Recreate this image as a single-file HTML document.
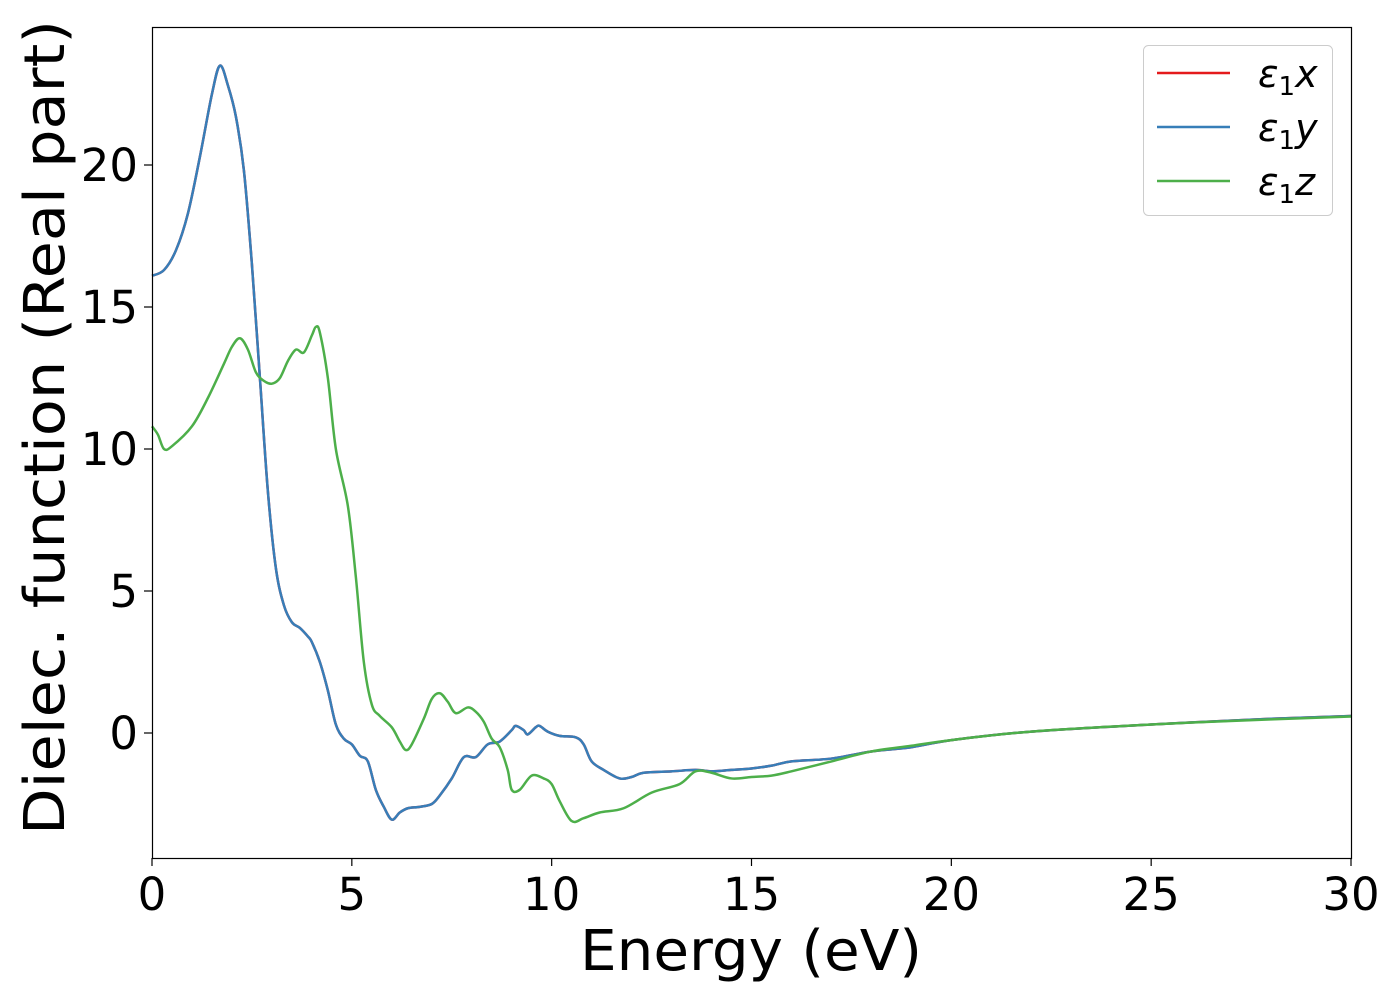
<!DOCTYPE html>
<html><head><meta charset="utf-8"><style>
html,body{margin:0;padding:0;background:#fff;}
svg{display:block;font-family:"DejaVu Sans","Liberation Sans",sans-serif;}
</style></head><body>
<svg id="chart" width="1400" height="1000" viewBox="0 0 1400 1000">
<rect x="0" y="0" width="1400" height="1000" fill="#fff"/>
<g id="plot"></g>
<rect x="152.5" y="27.5" width="1199" height="831" fill="none" stroke="#000" stroke-width="1.2"/>
<g id="xticks"></g>
<g id="yticks"></g>
<text x="580" y="970" font-size="56" textLength="342" lengthAdjust="spacingAndGlyphs">Energy (eV)</text>
<text transform="translate(64,835) rotate(-90)" font-size="56" textLength="815" lengthAdjust="spacingAndGlyphs">Dielec. function (Real part)</text>
<g>
<rect x="1143.5" y="45.5" width="189" height="170" rx="5" fill="#fff" fill-opacity="0.8" stroke="#ccc"/>
<g><line x1="1157" y1="73" x2="1230" y2="73" stroke="#e41a1c" stroke-width="2.5"/><text x="1258" y="87" font-size="38" font-style="italic">ε<tspan font-size="26" dy="8" font-style="normal">1</tspan><tspan dy="-8">x</tspan></text></g>
<g><line x1="1157" y1="127" x2="1230" y2="127" stroke="#377eb8" stroke-width="2.5"/><text x="1258" y="141" font-size="38" font-style="italic">ε<tspan font-size="26" dy="8" font-style="normal">1</tspan><tspan dy="-8">y</tspan></text></g>
<g><line x1="1157" y1="181" x2="1230" y2="181" stroke="#4daf4a" stroke-width="2.5"/><text x="1258" y="195" font-size="38" font-style="italic">ε<tspan font-size="26" dy="8" font-style="normal">1</tspan><tspan dy="-8">z</tspan></text></g>
</g>
</svg>
<script>
const energyXY=[0,0.3,0.6,0.9,1.2,1.5,1.7,1.9,2.1,2.3,2.5,2.7,2.9,3.1,3.3,3.5,3.7,3.9,4.0,4.2,4.4,4.6,4.8,5.0,5.2,5.4,5.6,5.8,6.0,6.2,6.4,6.7,7.0,7.2,7.5,7.8,8.1,8.4,8.7,9.0,9.1,9.3,9.4,9.6,9.7,9.9,10.2,10.6,10.8,11.0,11.3,11.7,12.0,12.3,13.0,13.6,14.0,14.5,15.0,15.5,16.0,17.0,18.0,19.0,20.0,22.0,25.0,28.0,30.0];
const eps1x=[16.1,16.3,17,18.3,20.3,22.5,23.5,22.8,21.7,19.8,16.5,12.5,8.5,5.8,4.5,3.9,3.7,3.4,3.2,2.5,1.5,0.3,-0.2,-0.4,-0.8,-1.0,-2.0,-2.6,-3.05,-2.8,-2.65,-2.6,-2.5,-2.2,-1.6,-0.85,-0.85,-0.4,-0.3,0.1,0.25,0.1,-0.05,0.2,0.25,0.05,-0.1,-0.15,-0.4,-1.0,-1.3,-1.6,-1.55,-1.4,-1.35,-1.3,-1.35,-1.3,-1.25,-1.15,-1.0,-0.9,-0.65,-0.5,-0.25,0.05,0.3,0.5,0.6];
const eps1y=eps1x.slice();
const energyZ=[0,0.15,0.3,0.5,1.0,1.4,1.8,2.0,2.2,2.4,2.6,2.8,3.0,3.2,3.4,3.6,3.8,4.0,4.1,4.2,4.4,4.6,4.9,5.1,5.3,5.5,5.7,6.0,6.2,6.35,6.5,6.8,7.0,7.2,7.4,7.6,7.9,8.1,8.3,8.5,8.7,8.9,9.0,9.2,9.5,9.8,10.0,10.2,10.5,10.8,11.2,11.8,12.5,13.2,13.6,14.0,14.5,15.0,15.5,16.0,17.0,18.0,19.0,20.0,22.0,25.0,28.0,30.0];
const eps1z=[10.8,10.5,10.0,10.1,10.8,11.8,13.0,13.6,13.9,13.5,12.7,12.4,12.3,12.5,13.1,13.5,13.4,14.0,14.3,14.1,12.5,10.0,8.0,5.5,2.5,1.0,0.6,0.2,-0.3,-0.6,-0.4,0.5,1.2,1.4,1.1,0.7,0.9,0.75,0.4,-0.2,-0.5,-1.3,-2.0,-2.0,-1.5,-1.6,-1.8,-2.4,-3.1,-3.0,-2.8,-2.65,-2.1,-1.8,-1.35,-1.4,-1.6,-1.55,-1.5,-1.35,-1.0,-0.65,-0.45,-0.25,0.05,0.3,0.48,0.58];
const xTicks=[0,5,10,15,20,25,30];
const yTicks=[0,5,10,15,20];
const NS="http://www.w3.org/2000/svg";
function xs(v){return 152+v*(1199/30);}
function ys(v){return 733-v*28.4;}
function pathFrom(xa,ya){
  const p=xa.map((x,i)=>[xs(x),ys(ya[i])]);
  let d="M"+p[0][0]+","+p[0][1];
  for(let i=0;i<p.length-1;i++){
    const p0=p[Math.max(i-1,0)],p1=p[i],p2=p[i+1],p3=p[Math.min(i+2,p.length-1)];
    const c1x=p1[0]+(p2[0]-p0[0])/6,c1y=p1[1]+(p2[1]-p0[1])/6;
    const c2x=p2[0]-(p3[0]-p1[0])/6,c2y=p2[1]-(p3[1]-p1[1])/6;
    d+=" C"+c1x+","+c1y+" "+c2x+","+c2y+" "+p2[0]+","+p2[1];
  }
  return d;
}
const plot=document.getElementById('plot');
function addLine(xa,ya,color,name){
  const el=document.createElementNS(NS,'path');
  el.setAttribute('d',pathFrom(xa,ya));
  el.setAttribute('fill','none');
  el.setAttribute('stroke',color);
  el.setAttribute('stroke-width','2.5');
  
  
  plot.appendChild(el);
}
addLine(energyXY,eps1x,'#e41a1c','series-eps1-x');
addLine(energyXY,eps1y,'#377eb8','series-eps1-y');
addLine(energyZ,eps1z,'#4daf4a','series-eps1-z');
const xg=document.getElementById('xticks');
xTicks.forEach(t=>{
  const l=document.createElementNS(NS,'line');
  l.setAttribute('x1',xs(t));l.setAttribute('x2',xs(t));l.setAttribute('y1',858);l.setAttribute('y2',866);
  l.setAttribute('stroke','#000');l.setAttribute('stroke-width','1.2');
  
  
  xg.appendChild(l);
  const tx=document.createElementNS(NS,'text');
  tx.setAttribute('x',xs(t));tx.setAttribute('y',910);tx.setAttribute('font-size','45');tx.setAttribute('text-anchor','middle');
  tx.textContent=t;
  
  
  xg.appendChild(tx);
});
const yg=document.getElementById('yticks');
yTicks.forEach(t=>{
  const l=document.createElementNS(NS,'line');
  l.setAttribute('x1',144);l.setAttribute('x2',152);l.setAttribute('y1',ys(t));l.setAttribute('y2',ys(t));
  l.setAttribute('stroke','#000');l.setAttribute('stroke-width','1.2');
  
  
  yg.appendChild(l);
  const tx=document.createElementNS(NS,'text');
  tx.setAttribute('x',138);tx.setAttribute('y',ys(t)+16);tx.setAttribute('font-size','45');tx.setAttribute('text-anchor','end');
  tx.textContent=t;
  
  
  yg.appendChild(tx);
});
</script>
</body></html>
